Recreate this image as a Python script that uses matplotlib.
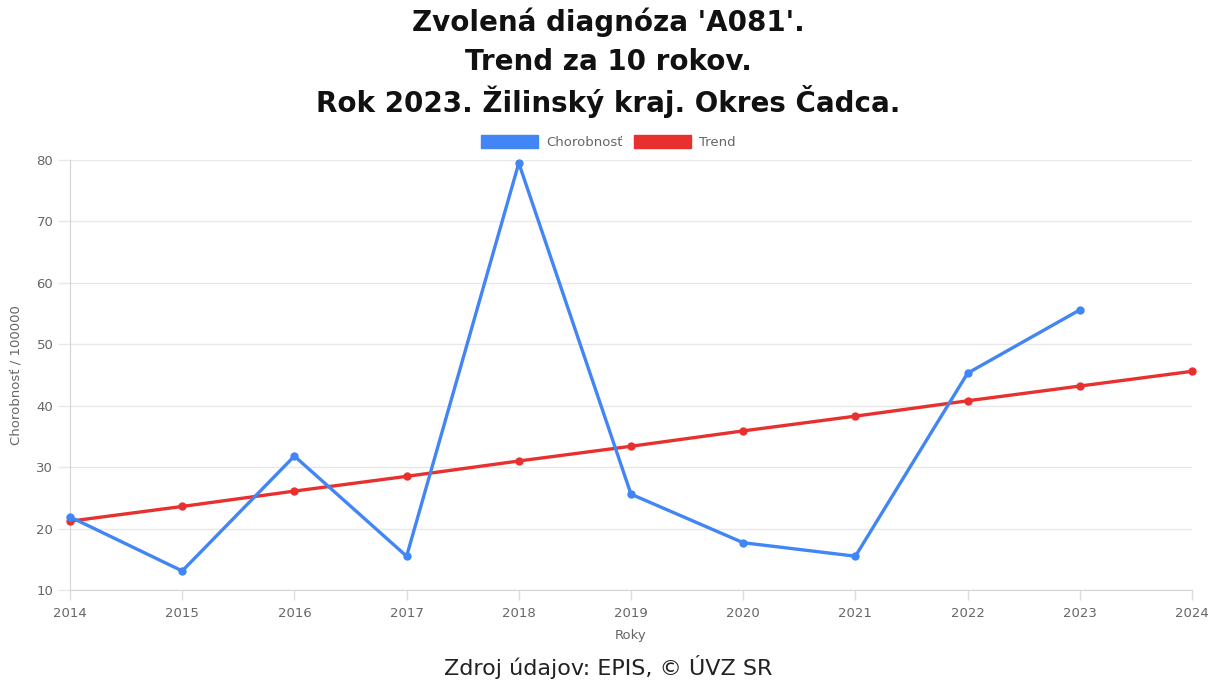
import matplotlib.pyplot as plt
from matplotlib.patches import Patch

years = [2014, 2015, 2016, 2017, 2018, 2019, 2020, 2021, 2022, 2023]
chorobnost = [21.9, 13.1, 31.8, 15.5, 79.5, 25.6, 17.7, 15.5, 45.3, 55.6]
trend_years = [2014, 2015, 2016, 2017, 2018, 2019, 2020, 2021, 2022, 2023, 2024]
trend = [21.2, 23.6, 26.1, 28.5, 31.0, 33.4, 35.9, 38.3, 40.8, 43.2, 45.6]
x_ticks = list(range(2014, 2025))
y_ticks = [10, 20, 30, 40, 50, 60, 70, 80]

title_lines = ["Zvolená diagnóza 'A081'.", "Trend za 10 rokov.", "Rok 2023. Žilinský kraj. Okres Čadca."]
source = "Zdroj údajov: EPIS, © ÚVZ SR"

blue = '#4285f4'
red = '#e8312f'
grid = '#e8e8e8'
tick_col = '#666666'

plt.rcParams['font.family'] = ['DejaVu Sans']

fig = plt.figure(figsize=(12.17, 6.83), dpi=100)
ax = fig.add_axes([70 / 1217, 93 / 683, 1122 / 1217, 430 / 683])

ax.plot(trend_years, trend, color=red, lw=2.4, marker='o', ms=5, zorder=3, clip_on=False)
ax.plot(years, chorobnost, color=blue, lw=2.4, marker='o', ms=5, zorder=4, clip_on=False)

ax.set_xlim(2014, 2024)
ax.set_ylim(10, 80)
ax.set_xticks(x_ticks)
ax.set_yticks(y_ticks)
ax.grid(True, axis='y', color=grid, lw=1)
ax.set_axisbelow(True)
for s in ['top', 'right']:
	ax.spines[s].set_visible(False)
for s in ['left', 'bottom']:
	ax.spines[s].set_color('#d4d4d4')
ax.tick_params(axis='y', colors=grid, labelcolor=tick_col, labelsize=9.5, length=9, width=1, pad=3)
ax.tick_params(axis='x', colors='#dddddd', labelcolor=tick_col, labelsize=9.5, length=7, width=1, pad=5)

ax.set_xlabel('Roky', fontsize=9.5, color=tick_col, labelpad=7)
ax.set_ylabel('Chorobnosť / 100000', fontsize=9.5, color=tick_col, labelpad=10)

for i, t in enumerate(title_lines):
	fig.text(0.5, 1 - (22 + 40 * i) / 683, t, ha='center', va='center', fontsize=20, fontweight='bold', color='#111111')

handles = [Patch(facecolor=blue, edgecolor=blue, label='Chorobnosť'),
		   Patch(facecolor=red, edgecolor=red, label='Trend')]
fig.legend(handles=handles, loc='center', bbox_to_anchor=(0.5, 1 - 142 / 683), ncol=2, frameon=False,
		   fontsize=9.5, labelcolor=tick_col, handlelength=4.3, handleheight=1.1, columnspacing=0.9, handletextpad=0.6)

fig.text(0.5, 1 - 667 / 683, source, ha='center', va='center', fontsize=16, color='#222222')

fig.savefig('out.png', dpi=100)
